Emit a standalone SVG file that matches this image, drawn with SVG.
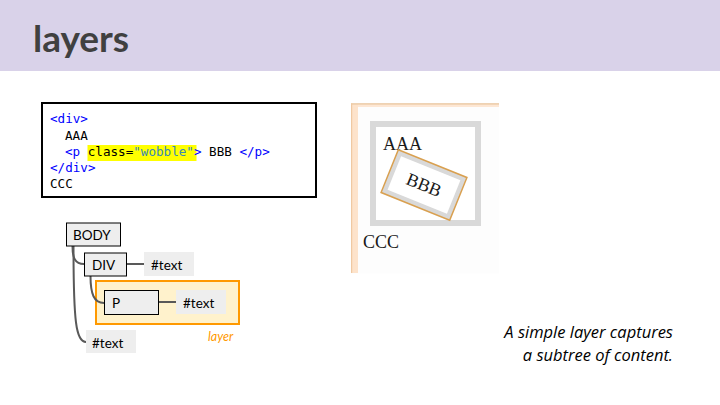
<svg xmlns="http://www.w3.org/2000/svg" width="720" height="405" viewBox="0 0 720 405">
<style>
.code{font-family:"DejaVu Sans Mono","Liberation Mono",monospace;font-size:12.6px;white-space:pre}
.tag{fill:#0000ff}
.txt{fill:#000}
.str{fill:#3a89b5}
.node rect.box{fill:#eeeeee;stroke:#000;stroke-width:1}
.node rect.tbox{fill:#eeeeee}
.lbl{font-family:Lato,"Liberation Sans",sans-serif;font-size:13.5px;fill:#000}
.conn{fill:none;stroke:#595959;stroke-width:2}
.serif{font-family:"Liberation Serif",serif;font-size:18px;fill:#1a1a1a}
</style>
<rect x="0" y="0" width="720" height="71" fill="#d9d2e9"/>
<text x="33" y="52" font-family="Lato,'Liberation Sans',sans-serif" font-weight="bold" font-size="37" fill="#404040">layers</text>

<g id="code">
<rect x="42" y="103" width="274" height="94" fill="#fff" stroke="#000" stroke-width="2"/>
<rect x="87.5" y="145" width="109" height="16" fill="#ffff00"/>
<text class="code" x="50" y="123"><tspan class="tag">&lt;div&gt;</tspan></text>
<text class="code txt" x="65" y="139.5">AAA</text>
<text class="code" x="65" y="156"><tspan class="tag">&lt;p </tspan><tspan class="txt">class=</tspan><tspan class="str">"wobble"</tspan><tspan class="tag">&gt; </tspan><tspan class="txt">BBB </tspan><tspan class="tag">&lt;/p&gt;</tspan></text>
<text class="code" x="50" y="172"><tspan class="tag">&lt;/div&gt;</tspan></text>
<text class="code txt" x="50" y="188">CCC</text>
</g>

<g id="layer">
<rect x="96" y="281" width="143" height="43" fill="#fff2cc" stroke="#ff9900" stroke-width="2"/>
<text x="208" y="341" font-family="Lato,'Liberation Sans',sans-serif" font-style="italic" font-size="12.5" fill="#ff9900">layer</text>
</g>

<g id="connectors">
<path class="conn" d="M72.5,246 C72.5,258 75,264 84,264"/>
<path class="conn" d="M73.5,246 C73.5,322 76,342 86,342"/>
<path class="conn" d="M90.5,276 C90.5,294 94,303 104,303"/>
<path class="conn" d="M127,264 H144"/>
<path class="conn" d="M159,302 H176"/>
</g>

<g id="body" class="node">
<rect class="box" x="66.5" y="223" width="54" height="23"/>
<text class="lbl" x="73" y="239.5">BODY</text>
</g>
<g id="div" class="node">
<rect class="box" x="84.5" y="253" width="42" height="23"/>
<text class="lbl" x="92" y="269.5">DIV</text>
</g>
<g id="text1" class="node">
<rect class="tbox" x="144" y="252" width="50" height="24"/>
<text class="lbl" x="151" y="269.5">#text</text>
</g>
<g id="p" class="node">
<rect class="box" x="104.5" y="290.5" width="54" height="24"/>
<text class="lbl" x="112" y="307.5">P</text>
</g>
<g id="text2" class="node">
<rect class="tbox" x="176" y="290" width="50" height="24"/>
<text class="lbl" x="183" y="307.5">#text</text>
</g>
<g id="text3" class="node">
<rect class="tbox" x="86" y="330" width="50" height="23"/>
<text class="lbl" x="92" y="347.5">#text</text>
</g>

<g id="screenshot">
<rect x="351" y="103.5" width="148" height="170" fill="#fdfdfd"/>
<rect x="351" y="104" width="148" height="3" fill="#fde7d4"/>
<rect x="351" y="104" width="7" height="169" fill="#fde3cb"/>
<line x1="351" y1="103.8" x2="499" y2="103.8" stroke="#e8c39a" stroke-width="1.2"/>
<line x1="351.6" y1="103.5" x2="351.6" y2="273" stroke="#f0c9a2" stroke-width="1.2"/>
<rect x="373" y="124" width="105" height="99" fill="#fff" stroke="#d9d9d9" stroke-width="6"/>
<text class="serif" x="383" y="150">AAA</text>
<g transform="translate(424,185) rotate(22)">
<rect x="-37" y="-23" width="74" height="46" fill="#d9d9d9" stroke="#d9a050" stroke-width="1.5"/>
<rect x="-32" y="-18" width="64" height="36" fill="#fff"/>
<text class="serif" x="0" y="6" text-anchor="middle">BBB</text>
</g>
<text class="serif" x="363" y="248">CCC</text>
</g>

<g id="caption" font-family="'Open Sans','Liberation Sans',sans-serif" font-style="italic" font-size="16.5" fill="#000" text-anchor="end">
<text x="673" y="338">A simple layer captures</text>
<text x="673" y="361">a subtree of content.</text>
</g>
</svg>
